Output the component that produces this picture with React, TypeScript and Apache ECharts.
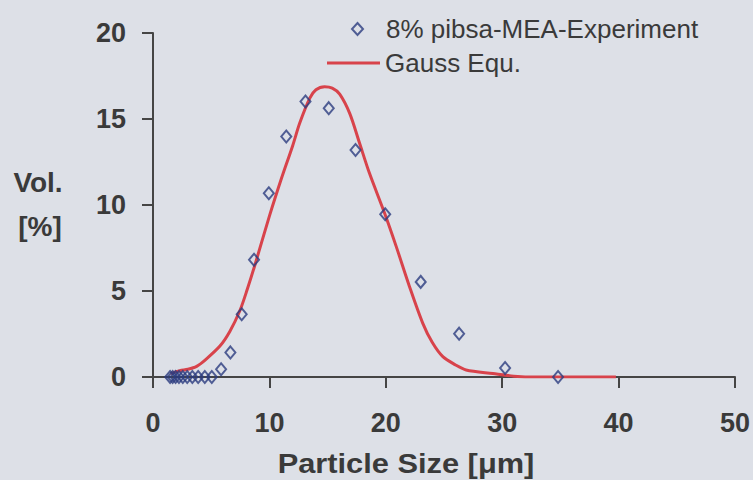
import React, { useEffect, useRef } from "react";
import * as echarts from "echarts";

// Particle size bins (µm) and measured volume fraction (%)
const expSizes = [1.47, 1.69, 1.94, 2.23, 2.56, 2.94, 3.38, 3.88, 4.45, 5.05, 5.85, 6.65, 7.62, 8.68, 9.95, 11.45, 13.1, 15.1, 17.4, 19.95, 23.0, 26.3, 30.25, 34.8];
const expVol = [0, 0, 0, 0, 0, 0, 0, 0, 0, 0, 0.45, 1.43, 3.65, 6.82, 10.68, 13.98, 16.02, 15.63, 13.2, 9.46, 5.53, 2.52, 0.52, 0.0];

// Gauss fit curve
const fitSizes = [1.5, 2.3, 3.0, 3.75, 4.5, 5.75, 6.6, 7.46, 8.1, 8.75, 10.0, 11.04, 12.0, 12.6, 13.46, 14.0, 14.75, 15.4, 16.04, 16.9, 17.75, 18.6, 19.9, 20.9, 22.04, 23.18, 24.0, 24.9, 26.0, 26.9, 29.2, 31.0, 33.0, 39.77];
const fitVol = [0.2, 0.37, 0.45, 0.62, 1.0, 1.8, 2.65, 3.85, 5.1, 6.5, 9.35, 11.55, 13.45, 14.75, 16.2, 16.7, 16.88, 16.8, 16.45, 15.33, 13.59, 11.84, 9.52, 7.58, 5.25, 3.12, 2.0, 1.18, 0.7, 0.41, 0.2, 0.05, 0.0, 0.0];

const xTicks = { min: 0, max: 50, interval: 10 };
const yTicks = { min: 0, max: 20, interval: 5 };

const expName = "8% pibsa-MEA-Experiment";
const fitName = "Gauss Equ.";

const FONT = "Arial, 'Liberation Sans', sans-serif";
const TEXT = "#3a3a3a";
const RED = "#d8434b";
const NAVY = "#2c3c80";

export default function App() {
  const ref = useRef<HTMLDivElement>(null);
  useEffect(() => {
    if (!ref.current) return;
    const chart = echarts.init(ref.current, undefined, { renderer: "svg" });
    chart.setOption({
      animation: false,
      backgroundColor: "#dde0e7",
      grid: { left: 153, right: 17, top: 33, bottom: 103 },
      legend: [
        {
          left: 346,
          top: 11,
          itemWidth: 11,
          itemHeight: 12,
          textStyle: { fontFamily: FONT, fontSize: 26, color: TEXT, padding: [0, 0, 0, 18] },
          data: [{ name: expName, icon: "diamond", itemStyle: { color: "rgba(0,0,0,0)", borderColor: NAVY, borderWidth: 2 } }],
        },
        {
          left: 322,
          top: 45,
          itemWidth: 53,
          itemHeight: 3,
          textStyle: { fontFamily: FONT, fontSize: 26, color: TEXT },
          data: [{ name: fitName, icon: "rect", itemStyle: { color: RED, borderWidth: 0 } }],
        },
      ],
      xAxis: {
        type: "value",
        min: xTicks.min,
        max: xTicks.max,
        interval: xTicks.interval,
        splitLine: { show: false },
        axisLine: { show: true, lineStyle: { color: "#454545", width: 2 } },
        axisTick: { show: true, inside: false, length: 11, lineStyle: { color: "#454545", width: 2 } },
        axisLabel: { margin: 32, fontFamily: FONT, fontSize: 27, fontWeight: "bold", color: TEXT },
      },
      yAxis: {
        type: "value",
        min: yTicks.min,
        max: yTicks.max,
        interval: yTicks.interval,
        splitLine: { show: false },
        axisLine: { show: true, lineStyle: { color: "#454545", width: 2 } },
        axisTick: { show: true, inside: false, length: 11, lineStyle: { color: "#454545", width: 2 } },
        axisLabel: { margin: 27, fontFamily: FONT, fontSize: 27, fontWeight: "bold", color: TEXT },
      },
      graphic: [
        { type: "text", x: 38, y: 182, style: { text: "Vol.", fontFamily: FONT, fontSize: 28, fontWeight: "bold", fill: TEXT, textAlign: "center", textVerticalAlign: "middle" } },
        { type: "text", x: 40, y: 226, style: { text: "[%]", fontFamily: FONT, fontSize: 28, fontWeight: "bold", fill: TEXT, textAlign: "center", textVerticalAlign: "middle" } },
        { type: "text", x: 406, y: 463, scaleX: 1.1, style: { text: "Particle Size [μm]", fontFamily: FONT, fontSize: 28, fontWeight: "bold", fill: TEXT, textAlign: "center", textVerticalAlign: "middle" } },
      ],
      series: [
        {
          name: fitName,
          type: "line",
          data: fitSizes.map((x, i) => [x, fitVol[i]]),
          symbol: "none",
          smooth: 0.3,
          lineStyle: { color: RED, width: 3 },
          itemStyle: { color: RED },
          z: 2,
        },
        {
          name: expName,
          type: "scatter",
          data: expSizes.map((x, i) => [x, expVol[i]]),
          symbol: "diamond",
          symbolSize: [10, 12],
          itemStyle: { color: "rgba(0,0,0,0)", borderColor: NAVY, borderWidth: 2 },
          z: 3,
        },
      ],
    });
    return () => chart.dispose();
  }, []);
  return (
    <div style={{ position: "absolute", left: 0, top: 0, width: 753, height: 480 }}>
      <div ref={ref} style={{ width: 753, height: 480 }} />
    </div>
  );
}
